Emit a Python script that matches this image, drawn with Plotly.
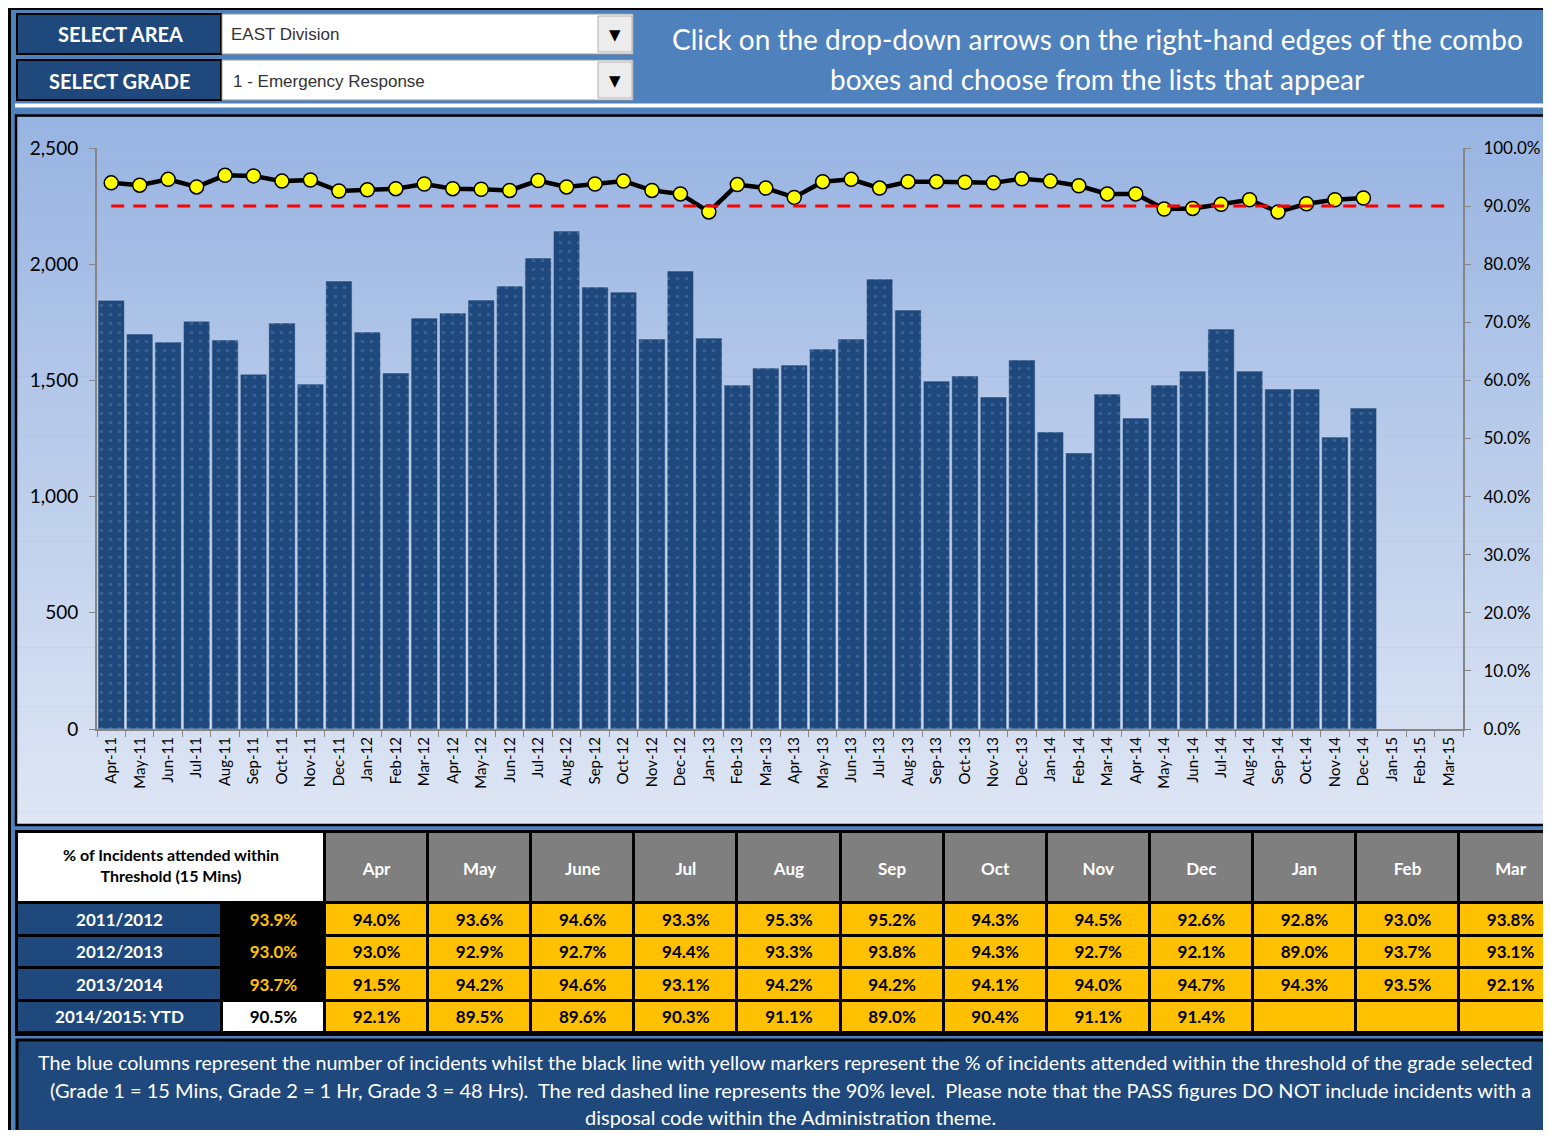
import plotly.graph_objects as go

W, H = 1551, 1138      # browser window
OFF = 8                # body margin of the page
FW, FH = W - 2 * OFF, H - 2 * OFF   # figure fits the window exactly, no scrolling

MONTHS = [
    "Apr-11", "May-11", "Jun-11", "Jul-11", "Aug-11", "Sep-11", "Oct-11", "Nov-11", "Dec-11", "Jan-12", "Feb-12", "Mar-12",
    "Apr-12", "May-12", "Jun-12", "Jul-12", "Aug-12", "Sep-12", "Oct-12", "Nov-12", "Dec-12", "Jan-13", "Feb-13", "Mar-13",
    "Apr-13", "May-13", "Jun-13", "Jul-13", "Aug-13", "Sep-13", "Oct-13", "Nov-13", "Dec-13", "Jan-14", "Feb-14", "Mar-14",
    "Apr-14", "May-14", "Jun-14", "Jul-14", "Aug-14", "Sep-14", "Oct-14", "Nov-14", "Dec-14", "Jan-15", "Feb-15", "Mar-15",
]

INCIDENTS = [
    1845, 1700, 1665, 1755, 1674, 1527, 1747, 1484, 1928, 1708, 1532, 1768,
    1790, 1846, 1906, 2027, 2143, 1902, 1880, 1678, 1971, 1682, 1480, 1553,
    1566, 1635, 1678, 1936, 1803, 1497, 1519, 1429, 1588, 1278, 1188, 1441,
    1338, 1480, 1540, 1721, 1540, 1463, 1463, 1256, 1381, None, None, None,
]

TABLE_MONTHS = ["Apr", "May", "June", "Jul", "Aug", "Sep", "Oct", "Nov", "Dec", "Jan", "Feb", "Mar"]
YEARS = ["2011/2012", "2012/2013", "2013/2014", "2014/2015: YTD"]
YEAR_TOTALS = [93.9, 93.0, 93.7, 90.5]
PCT_2011 = [94.0, 93.6, 94.6, 93.3, 95.3, 95.2, 94.3, 94.5, 92.6, 92.8, 93.0, 93.8]
PCT_2012 = [93.0, 92.9, 92.7, 94.4, 93.3, 93.8, 94.3, 92.7, 92.1, 89.0, 93.7, 93.1]
PCT_2013 = [91.5, 94.2, 94.6, 93.1, 94.2, 94.2, 94.1, 94.0, 94.7, 94.3, 93.5, 92.1]
PCT_2014 = [92.1, 89.5, 89.6, 90.3, 91.1, 89.0, 90.4, 91.1, 91.4, None, None, None]
THRESHOLD = 90.0

AREA = "EAST Division"
GRADE = "1 - Emergency Response"
TABLE_TITLE = "% of Incidents attended within<br>Threshold (15 Mins)"

DARK_BLUE = "#1F497D"
PAGE_BLUE = "#4F81BD"
AMBER = "#FFC000"
HEAD_GRAY = "#7F7F7F"
FONT = "Lato"

# table geometry (window pixels)
TABLE_X0 = 17
COL_W = [205, 103] + [103.1] * 12
HEAD_Y = [832, 903]
ROW_Y = [903, 935.5, 968, 1000.5, 1033]


def px(x):
    return (x - OFF) / FW


def py(y):
    return 1 - (y - OFF) / FH


def _rect(x0, y0, x1, y1, fill, line_color=None, line_width=0, layer="below"):
    return dict(
        type="rect", xref="paper", yref="paper",
        x0=px(x0), x1=px(x1), y0=py(y0), y1=py(y1),
        fillcolor=fill, layer=layer,
        line=dict(color=line_color or "rgba(0,0,0,0)", width=line_width),
    )


def _text(x, y, text, size, color="white", xanchor="center", family=FONT):
    return dict(
        xref="paper", yref="paper", x=px(x), y=py(y), text=text,
        showarrow=False, xanchor=xanchor, yanchor="middle",
        font=dict(family=family, size=size, color=color),
    )


def _pct(v):
    return "" if v is None else f"<b>{v:.1f}%</b>"


pct_line = PCT_2011 + PCT_2012 + PCT_2013 + PCT_2014

fig = go.Figure()

fig.add_trace(
    go.Bar(
        x=MONTHS, y=INCIDENTS,
        marker=dict(
            color=DARK_BLUE,
            line=dict(color="rgba(190,208,235,0.55)", width=1),
            pattern=dict(shape=".", fgcolor="#5479AC", bgcolor=DARK_BLUE, size=9, solidity=0.12),
        ),
        showlegend=False, hoverinfo="skip",
    )
)

fig.add_trace(
    go.Scatter(
        x=MONTHS, y=pct_line, yaxis="y2", mode="lines+markers",
        line=dict(color="black", width=4.5),
        marker=dict(size=14, color="#FFFF00", line=dict(color="black", width=1.5)),
        showlegend=False, hoverinfo="skip",
    )
)

fig.add_trace(
    go.Scatter(
        x=MONTHS, y=[THRESHOLD] * len(MONTHS), yaxis="y2", mode="lines",
        line=dict(color="#FF0000", width=3, dash="13px,9px"),
        showlegend=False, hoverinfo="skip",
    )
)

# ---- table: heatmap bricks for the cells, text trace for the values ----
col_edges = [TABLE_X0]
for w in COL_W:
    col_edges.append(col_edges[-1] + w)
col_mid = [(a + b) / 2 for a, b in zip(col_edges[:-1], col_edges[1:])]
row_mid = [(a + b) / 2 for a, b in zip(ROW_Y[:-1], ROW_Y[1:])]
head_mid = (HEAD_Y[0] + HEAD_Y[1]) / 2

# colour codes: 0 blue, 1 black, 2 white, 3 amber, 4 gray
cell_scale = [[0, DARK_BLUE], [0.25, "black"], [0.5, "white"], [0.75, AMBER], [1, HEAD_GRAY]]

head_edges = [col_edges[0]] + col_edges[2:]
fig.add_trace(
    go.Heatmap(
        x=head_edges, y=HEAD_Y, z=[[2] + [4] * len(TABLE_MONTHS)],
        colorscale=cell_scale, zmin=0, zmax=4, showscale=False,
        xgap=3, ygap=3, xaxis="x3", yaxis="y3", hoverinfo="skip",
    )
)

rows = [PCT_2011, PCT_2012, PCT_2013, PCT_2014]
body_z = []
for r, row in enumerate(rows):
    body_z.append([0, 2 if r == len(rows) - 1 else 1] + [3] * len(row))
fig.add_trace(
    go.Heatmap(
        x=col_edges, y=ROW_Y, z=body_z,
        colorscale=cell_scale, zmin=0, zmax=4, showscale=False,
        xgap=3, ygap=3, xaxis="x3", yaxis="y3", hoverinfo="skip",
    )
)

tx, ty, tt, tc, ts = [], [], [], [], []
tx.append((col_edges[0] + col_edges[2]) / 2)
ty.append(head_mid)
tt.append(f"<b>{TABLE_TITLE}</b>")
tc.append("black")
ts.append(16)
for i, m in enumerate(TABLE_MONTHS):
    tx.append(col_mid[i + 2])
    ty.append(head_mid + 3)
    tt.append(f"<b>{m}</b>")
    tc.append("white")
    ts.append(17)
for r, row in enumerate(rows):
    last = r == len(rows) - 1
    tx += [col_mid[0], col_mid[1]]
    ty += [row_mid[r] + 2, row_mid[r] + 2]
    tt += [f"<b>{YEARS[r]}</b>", f"<b>{YEAR_TOTALS[r]:.1f}%</b>"]
    tc += ["white", "black" if last else AMBER]
    ts += [17, 17]
    for i, v in enumerate(row):
        tx.append(col_mid[i + 2])
        ty.append(row_mid[r] + 2)
        tt.append(_pct(v))
        tc.append("black")
        ts.append(17)

fig.add_trace(
    go.Scatter(
        x=tx, y=ty, text=tt, mode="text", textposition="middle center",
        textfont=dict(family=FONT, size=ts, color=tc),
        xaxis="x3", yaxis="y3", showlegend=False, hoverinfo="skip",
    )
)

shapes = []
# chart panel gradient
top_c, bot_c = (152, 180, 226), (222, 230, 244)
n = 60
y_top, y_bot = 117, 824
for i in range(n):
    t = i / (n - 1)
    c = tuple(round(a + (b - a) * t) for a, b in zip(top_c, bot_c))
    y0 = y_top + (y_bot - y_top) * i / n
    y1 = y_top + (y_bot - y_top) * (i + 1) / n + 0.6
    shapes.append(_rect(16, y0, W + 2, y1, f"rgb{c}"))
shapes.append(_rect(16, 115.5, W + 3, 825, "rgba(0,0,0,0)", "black", 2.5))

# page frame
shapes.append(_rect(OFF, OFF, OFF + 3, H, "black"))
shapes.append(_rect(OFF, OFF, W, OFF + 2, "black"))

# selector boxes
for y0 in (14, 60):
    shapes.append(_rect(17, y0, 221, y0 + 40, DARK_BLUE, "black", 2))
    shapes.append(_rect(222, y0, 633, y0 + 40, "white", "#9A9A9A", 1))
    shapes.append(_rect(598, y0 + 2, 632, y0 + 38, "#ECECEC", "#B0B0B0", 1))
shapes.append(_rect(15, 103.5, W + 2, 107.5, "white"))

# table backdrop (shows through the cell gaps as black rules)
shapes.append(_rect(15, 830, W + 2, 1036, "black"))

# explanation box
shapes.append(_rect(17, 1040, W + 3, H + 3, DARK_BLUE, "black", 3))

annotations = [
    _text(120, 34, "<b>SELECT AREA</b>", 20),
    _text(120, 81, "<b>SELECT GRADE</b>", 20),
    _text(229, 35, AREA, 17, color="#333333", xanchor="left", family="Liberation Sans"),
    _text(231, 82, GRADE, 17, color="#333333", xanchor="left", family="Liberation Sans"),
    _text(615, 35, "▼", 15, color="black", family="DejaVu Sans"),
    _text(615, 81, "▼", 15, color="black", family="DejaVu Sans"),
    _text(1097, 39, "Click on the drop-down arrows on the right-hand edges of the combo", 28),
    _text(1097, 79, "boxes and choose from the lists that appear", 28),
    _text(785, 1062, "The blue columns represent the number of incidents whilst the black line with yellow markers "
                     "represent the % of incidents attended within the threshold of the grade selected", 19.7),
    _text(790, 1090, "(Grade 1 = 15 Mins, Grade 2 = 1 Hr, Grade 3 = 48 Hrs).  The red dashed line represents the 90% "
                     "level.  Please note that the PASS figures DO NOT include incidents with a", 20),
    _text(790, 1117, "disposal code within the Administration theme.", 20),
]

axis_gray = "#868686"
fig.update_layout(
    width=FW, height=FH, autosize=False,
    margin=dict(l=0, r=0, t=0, b=0, pad=0, autoexpand=False),
    paper_bgcolor=PAGE_BLUE, plot_bgcolor="rgba(0,0,0,0)",
    showlegend=False,
    bargap=0.07,
    font=dict(family=FONT, color="black"),
    xaxis=dict(
        domain=[px(97), px(1463)], type="category", range=[-0.5, len(MONTHS) - 0.5],
        tickangle=-90, tickfont=dict(size=15), showline=True, linecolor=axis_gray, linewidth=2,
        ticks="outside", ticklen=6, tickcolor=axis_gray, tickson="boundaries", showgrid=False,
        fixedrange=True, automargin=False,
    ),
    yaxis=dict(
        domain=[py(729), py(148)], range=[0, 2500], dtick=500, tickformat=",",
        tickfont=dict(size=19), showline=True, linecolor=axis_gray, linewidth=2,
        ticks="outside", ticklen=6, tickcolor=axis_gray, showgrid=False, zeroline=False,
        ticklabelstandoff=7, fixedrange=True, automargin=False,
    ),
    yaxis2=dict(
        overlaying="y", side="right", anchor="x", range=[0, 100], dtick=10,
        tickformat=".1f", ticksuffix="%", tickfont=dict(size=17),
        showline=True, linecolor=axis_gray, linewidth=2,
        ticks="outside", ticklen=6, tickcolor=axis_gray, showgrid=False, zeroline=False,
        ticklabelstandoff=9, fixedrange=True, automargin=False,
    ),
    xaxis3=dict(domain=[0, 1], range=[OFF, OFF + FW], visible=False, fixedrange=True,
                anchor="y3", automargin=False),
    yaxis3=dict(domain=[0, 1], range=[OFF + FH, OFF], visible=False, fixedrange=True,
                anchor="x3", automargin=False),
    shapes=shapes,
    annotations=annotations,
)

fig.write_html("out.html")
